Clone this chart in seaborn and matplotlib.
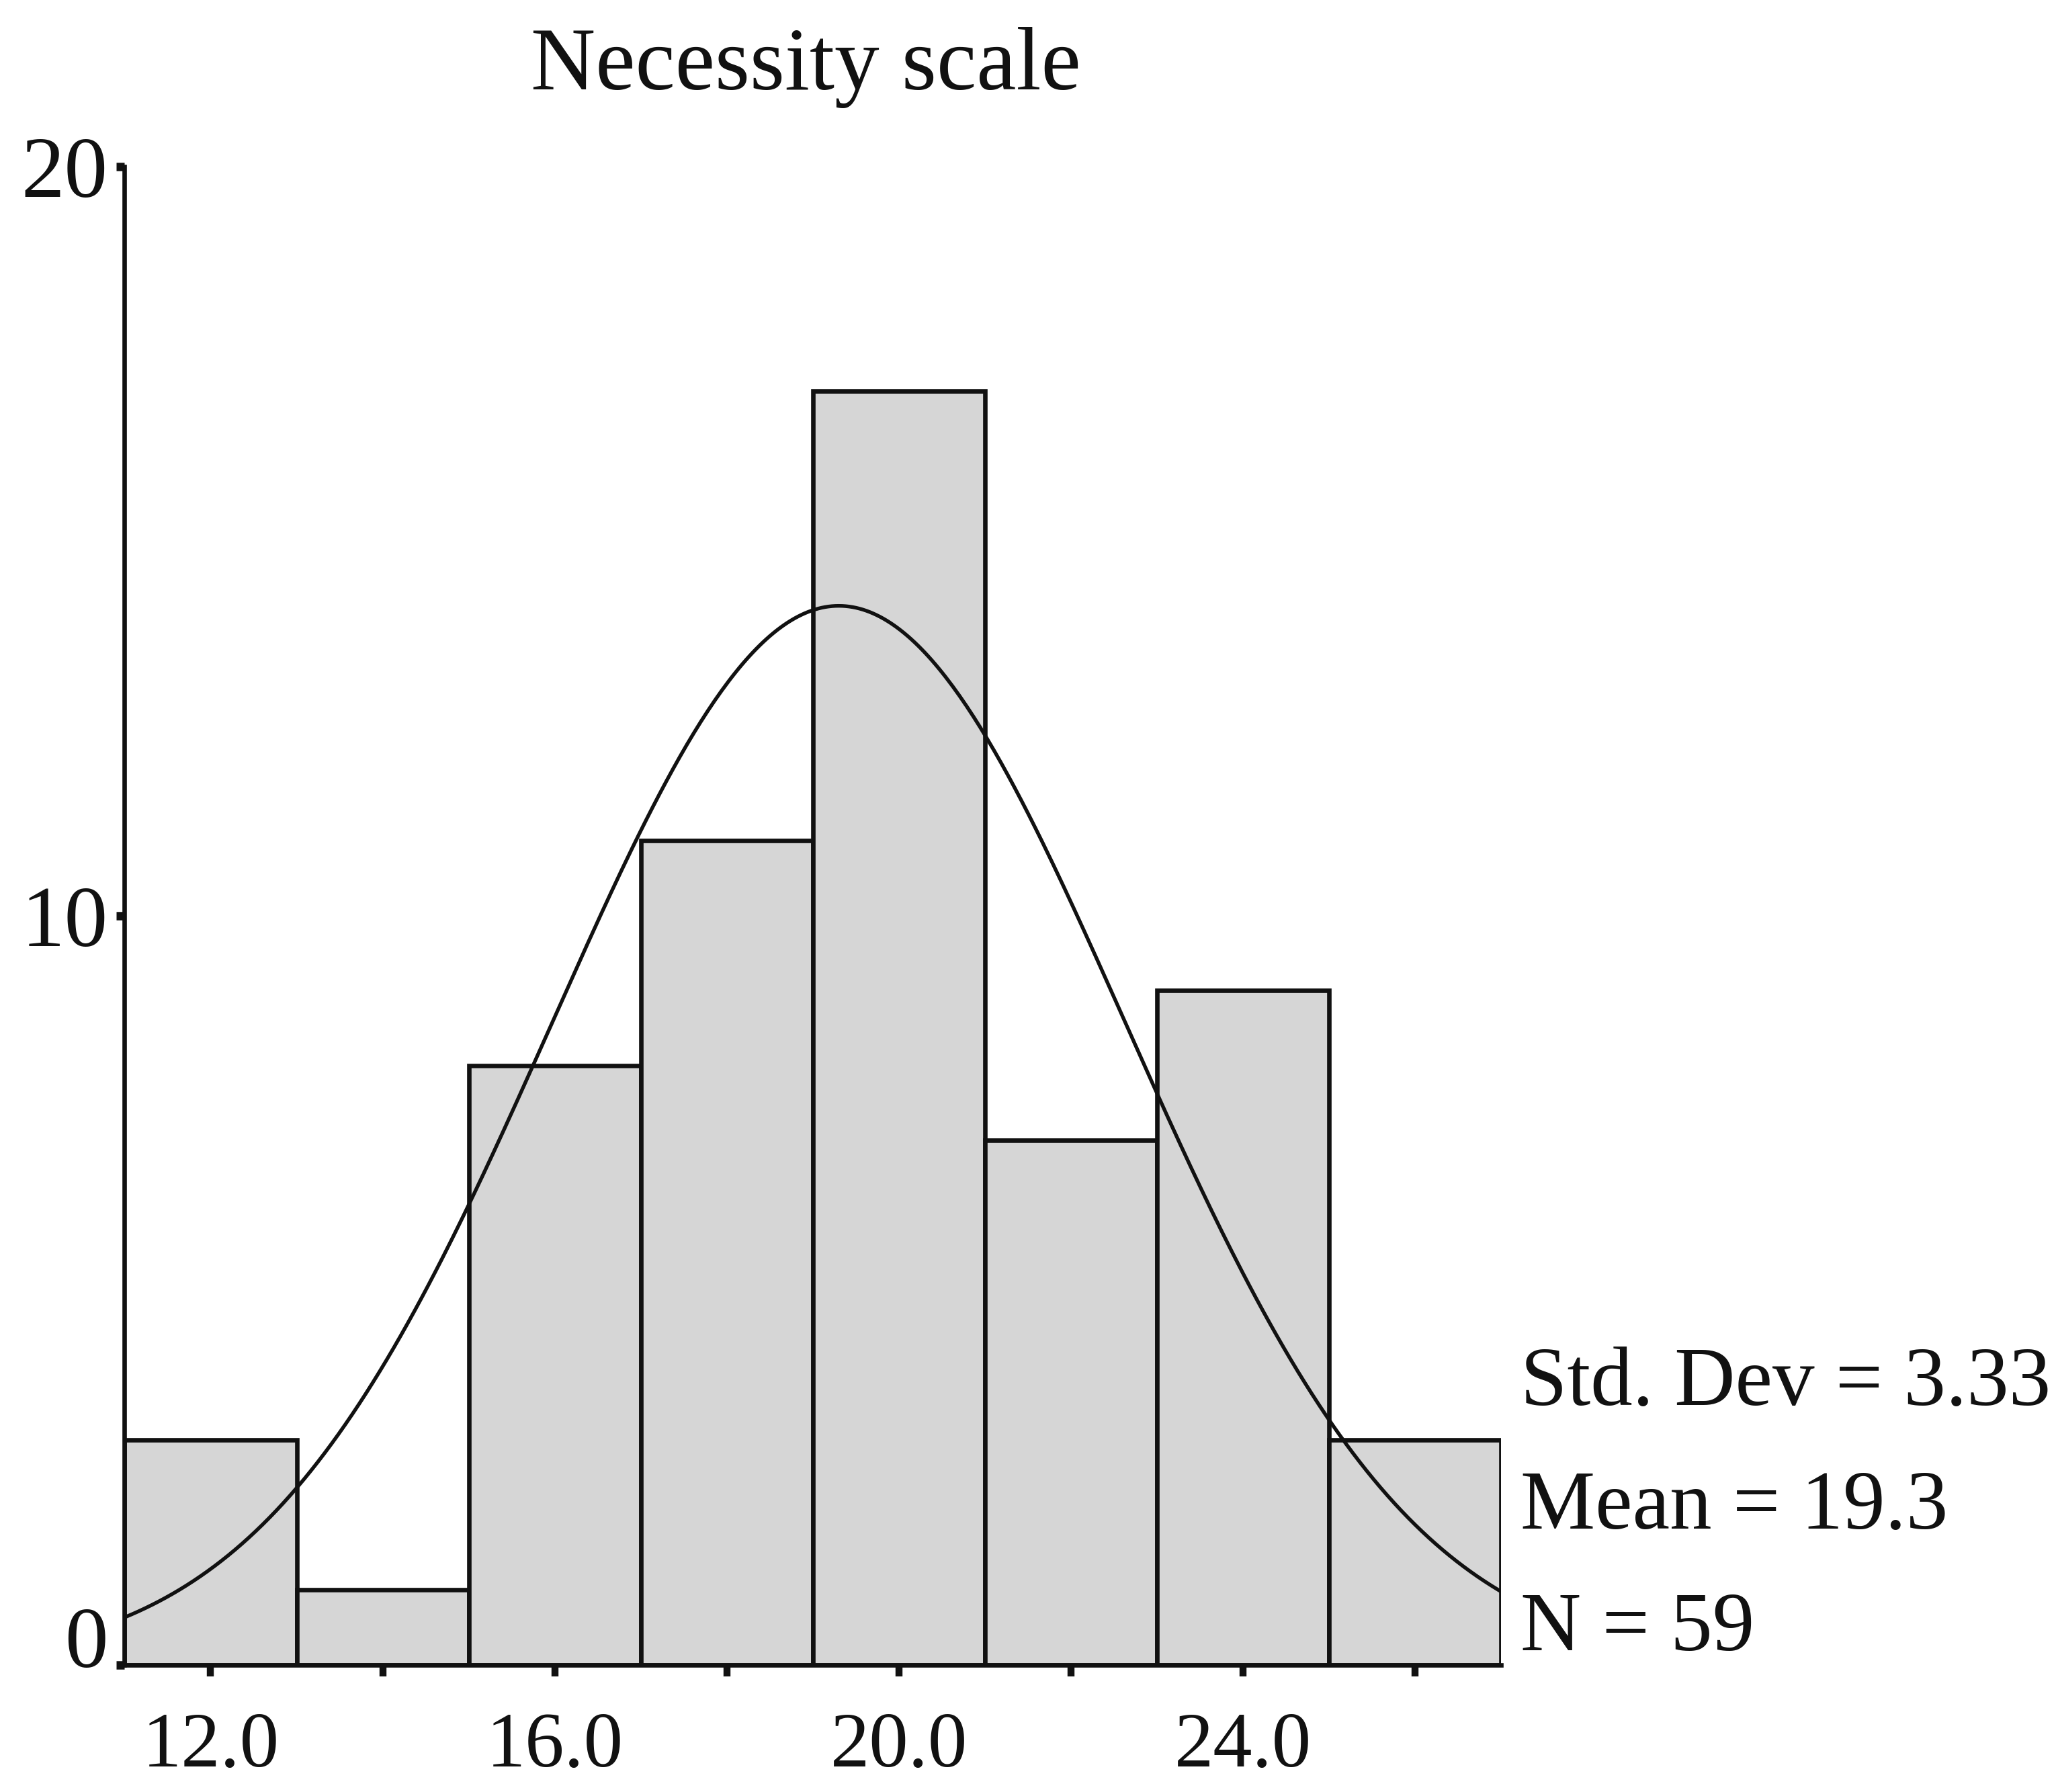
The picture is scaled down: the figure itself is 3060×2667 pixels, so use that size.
import numpy as np
import pandas as pd
import matplotlib
matplotlib.use("Agg")
import matplotlib.pyplot as plt
import matplotlib.transforms as mtransforms
import seaborn as sns

# ---- data ----
bin_centers = [12, 14, 16, 18, 20, 22, 24, 26]
counts = [3, 1, 8, 11, 17, 7, 9, 3]
bin_width = 2
x_tick_values = [12, 14, 16, 18, 20, 22, 24, 26]
x_tick_labels = ["12.0", "", "16.0", "", "20.0", "", "24.0", ""]
y_tick_values = [0, 10, 20]
title = "Necessity scale"
stat_std = 3.33
stat_mean = 19.3
stat_n = 59

sns.set_theme(style="white")
plt.rcParams["font.family"] = ["Liberation Serif", "DejaVu Serif"]
plt.rcParams["text.color"] = "#111111"
plt.rcParams["xtick.color"] = "#111111"
plt.rcParams["ytick.color"] = "#111111"

fig = plt.figure(figsize=(10.2, 8.89), dpi=300)
ax = fig.add_axes([0.0606, 0.071, 0.6696, 0.836])

df = pd.DataFrame({"value": bin_centers, "count": counts})
lo = min(bin_centers) - bin_width / 2
hi = max(bin_centers) + bin_width / 2
sns.histplot(data=df, x="value", weights="count", binwidth=bin_width,
             binrange=(lo, hi), ax=ax,
             color="#d6d6d6", alpha=1.0, edgecolor="#111111", linewidth=1.6)

# fitted normal curve from the stated statistics
xs = np.linspace(lo, hi, 400)
ys = stat_n * bin_width / (stat_std * np.sqrt(2 * np.pi)) * \
    np.exp(-0.5 * ((xs - stat_mean) / stat_std) ** 2)
sns.lineplot(x=xs, y=ys, ax=ax, color="#111111", linewidth=1.3)

ax.set_xlim(lo, hi)
ax.set_ylim(0, 20)
ax.set_xlabel("")
ax.set_ylabel("")
ax.set_xticks(x_tick_values)
ax.set_xticklabels(x_tick_labels, fontsize=28, color="#111111")
ax.set_yticks(y_tick_values)
ax.set_yticklabels([str(v) for v in y_tick_values], fontsize=31,
                   color="#111111")
for s in ["top", "right"]:
    ax.spines[s].set_visible(False)
for s in ["left", "bottom"]:
    ax.spines[s].set_color("#111111")
    ax.spines[s].set_linewidth(1.6)
ax.tick_params(axis="x", bottom=True, direction="out", length=4, width=2.5,
               color="#111111", pad=13)
ax.tick_params(axis="y", left=True, direction="out", length=3, width=3,
               color="#111111", pad=3)
ax.grid(False)

# the "0" label sits slightly above its tick in the reference
zero_lbl = ax.get_yticklabels()[0]
zero_lbl.set_transform(zero_lbl.get_transform() +
                       mtransforms.ScaledTranslation(0, 10 / 72,
                                                     fig.dpi_scale_trans))

fig.text(0.392, 0.950, title, ha="center", va="baseline", fontsize=32)

fig.text(0.7395, 0.216, f"Std. Dev = {stat_std:.2f}", ha="left",
         va="baseline", fontsize=30)
fig.text(0.7395, 0.147, f"Mean = {stat_mean:.1f}", ha="left",
         va="baseline", fontsize=30)
fig.text(0.7395, 0.079, f"N = {stat_n}", ha="left",
         va="baseline", fontsize=30)

fig.savefig("out.png", dpi=300, facecolor="white")
